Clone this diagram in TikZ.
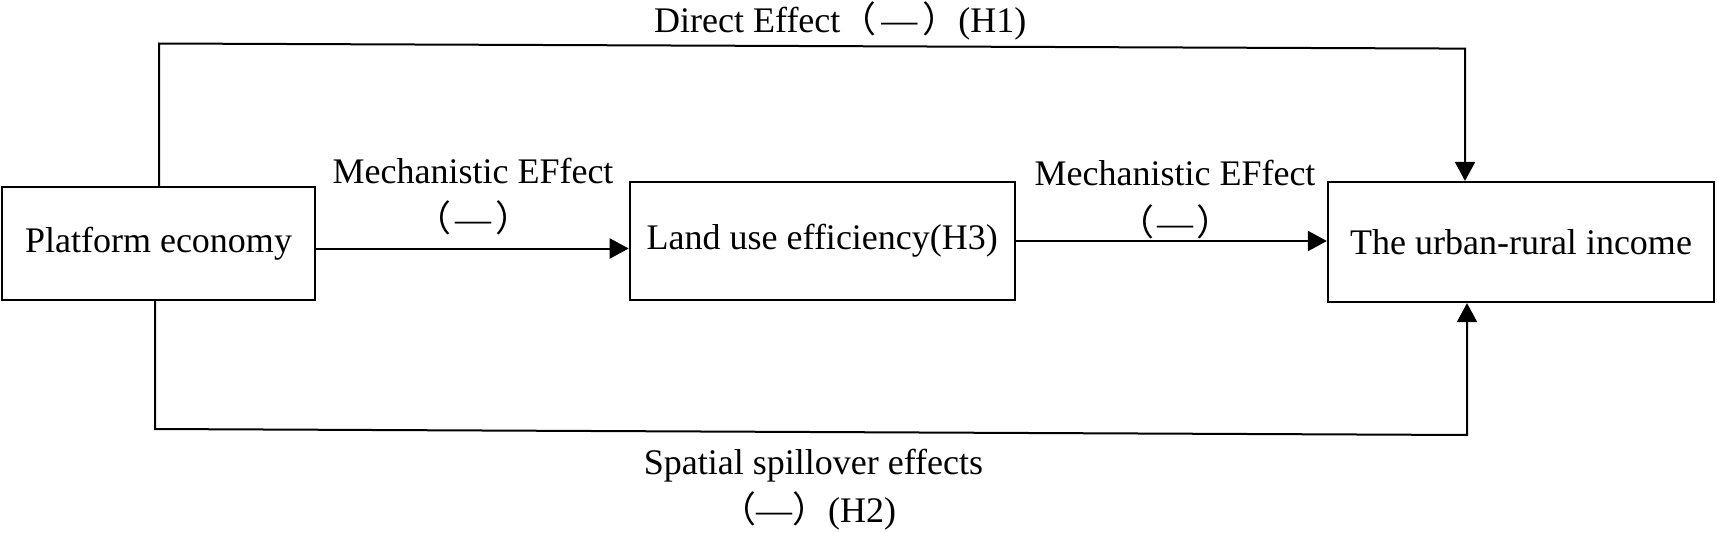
\documentclass[tikz,border=0pt]{standalone}
\usepackage{fontspec}
\setmainfont{Liberation Serif}
\newfontfamily\cjk{Noto Sans CJK SC}
\usetikzlibrary{arrows.meta}
\newcommand{\lp}{{\cjk （}}
\newcommand{\rp}{{\cjk ）}}
\begin{document}
\begin{tikzpicture}[x=1pt,y=-1pt,
  every node/.style={font=\fontsize{36}{43}\selectfont, inner sep=0pt},
  box/.style={draw, line width=2.2pt, rectangle},
  conn/.style={line width=2pt},
  arr/.style={conn, -{Triangle[length=19pt,width=20pt]}},
  lbl/.style={anchor=base}]
\useasboundingbox (0,0) rectangle (1717,533);
\node[box, minimum width=313pt, minimum height=113pt] (plat) at (158.5,243.5) {Platform economy};
\node[box, minimum width=385pt, minimum height=118pt] (land) at (822.3,241) {Land use efficiency(H3)};
\node[box, minimum width=386pt, minimum height=120pt] (urban) at (1521,242) {The urban-rural income};
\coordinate (tl) at (159,43.5);
\coordinate (tr) at (1465,48.6);
\coordinate (bl) at (155,429);
\coordinate (br) at (1467,435);
\coordinate (a1) at (0,248.5);
\draw[arr] (plat.east |- a1) -- (land.west |- a1);
\draw[arr] (land.east) -- (urban.west |- land.east);
\draw[arr] (plat.north -| tl) -- (tl) -- (tr) -- (urban.north -| tr);
\draw[arr] (plat.south -| bl) -- (bl) -- (br) -- (urban.south -| br);
\node[lbl] (m1a) at (473,183.5) {Mechanistic EFfect};
\node[lbl] (m1b) at (473,231) {\lp\hspace{4pt}—\hspace{4pt}\rp};
\node[lbl] (m2a) at (1175,185) {Mechanistic EFfect};
\node[lbl] (m2b) at (1175,235) {\lp\hspace{3pt}—\hspace{3pt}\rp};
\node[anchor=base west] (dir) at (654,32) {Direct Effect\lp\hspace{5pt}—\hspace{5pt}\rp(H1)};
\node[lbl] (sp1) at (813.5,474) {Spatial spillover effects};
\node[lbl] (sp2) at (808,522) {\lp—\rp(H2)};
\end{tikzpicture}
\end{document}
